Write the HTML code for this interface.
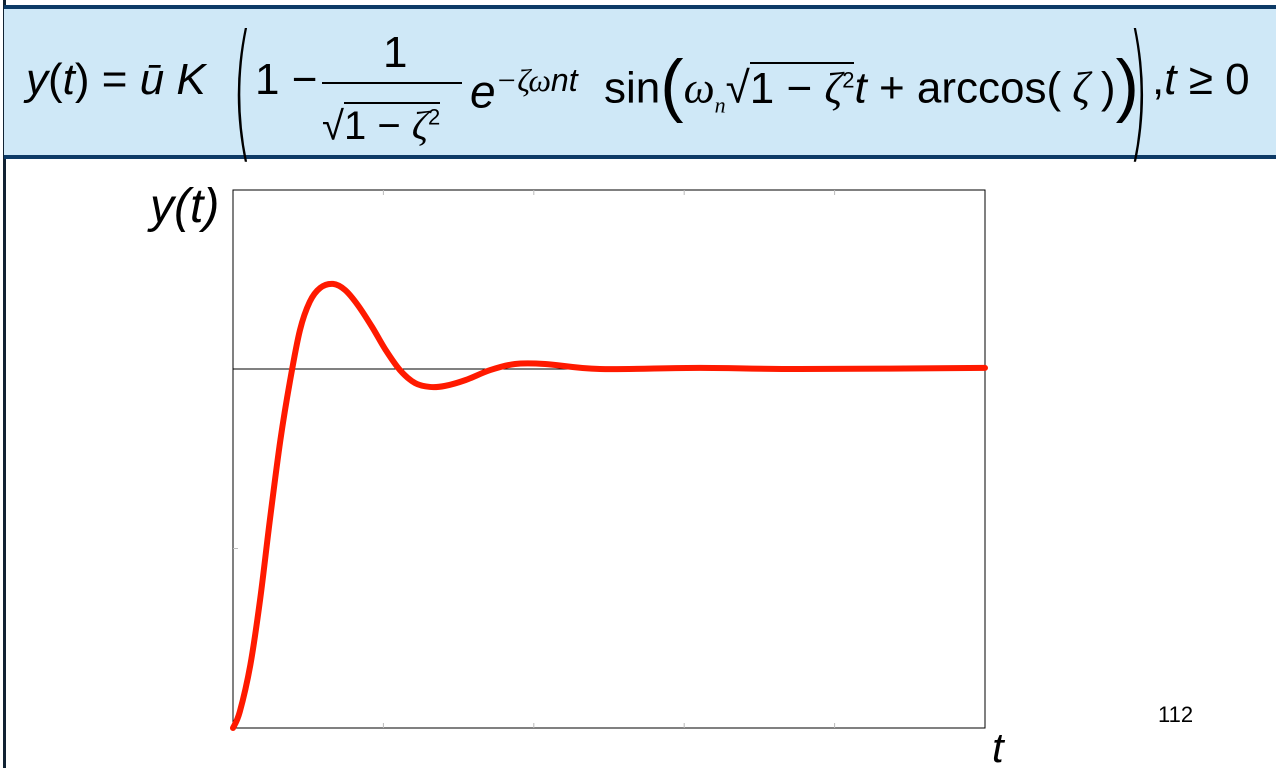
<!DOCTYPE html>
<html><head><meta charset="utf-8"><style>
body{margin:0;width:1276px;height:768px;background:#fff;position:relative;overflow:hidden;font-family:"Liberation Sans",sans-serif}
.a{position:absolute;white-space:nowrap}
.i{font-style:italic}
.s{font-family:"Liberation Serif","DejaVu Serif",serif;font-style:italic}
</style></head><body>
<div class="a" style="left:3px;top:0;width:3px;height:768px;background:#123"></div>
<div class="a" style="left:4px;top:5px;width:1272px;height:154px;background:#cfe8f7;border-top:4px solid #0d3a66;border-bottom:4px solid #0d3a66;box-sizing:border-box"></div>
<div class="a" style="left:26px;top:50px;font-size:44px;line-height:60px;color:#000">
<span class="i">y</span>(<span class="i">t</span>) = <span class="i">ū K</span>
</div>
<div class="a" style="left:232px;top:4px;font-size:150px;font-weight:100;transform:scaleX(0.35);transform-origin:left;font-family:'DejaVu Sans'">(</div>
<div class="a" style="left:255px;top:50px;font-size:44px;line-height:60px">1 −</div>
<div class="a" style="left:383px;top:28px;font-size:44px;line-height:50px">1</div>
<div class="a" style="left:322px;top:82px;width:140px;height:2px;background:#000"></div>
<div class="a" style="left:322px;top:90px;font-size:40px;line-height:55px">√<span style="border-top:2px solid #000">1 − <span class="s">ζ</span><sup style="font-size:22px">2</sup></span></div>
<div class="a" style="left:470px;top:50px;font-size:46px;line-height:60px"><span class="i">e</span><sup class="s" style="font-size:32px">−ζω</sup><sup class="i" style="font-size:32px">nt</sup></div>
<div class="a" style="left:604px;top:50px;font-size:44px;line-height:60px">sin<span style="font-size:70px;font-weight:100;vertical-align:-6px">(</span><span class="s">ω</span><sub class="s" style="font-size:22px">n</sub>√<span style="border-top:2px solid #000">1 − <span class="s">ζ</span><sup style="font-size:22px">2</sup></span><span class="i">t</span> + arccos(<span class="s"> ζ </span>)<span style="font-size:70px;font-weight:100;vertical-align:-6px">)</span></div>
<div class="a" style="left:1128px;top:4px;font-size:150px;font-weight:100;transform:scaleX(0.35);transform-origin:left;font-family:'DejaVu Sans'">)</div>
<div class="a" style="left:1152px;top:50px;font-size:44px;line-height:60px">,<span class="i">t</span> ≥ 0</div>

<svg class="a" style="left:0;top:0" width="1276" height="768">
<text x="150" y="222" font-size="48" font-style="italic" font-family="Liberation Sans">y(t)</text>
<text x="992" y="762" font-size="42" font-style="italic" font-family="Liberation Sans">t</text>
<text x="1158" y="722" font-size="22" font-family="Liberation Sans">112</text>
<g id="g"></g>
</svg>
<script>
const tVals=[0,0.09,0.23,0.36,0.49,0.63,0.76,0.89,1.02,1.16,1.33,1.49,1.66,1.85,2.03,2.22,2.42,2.62,2.82,3.09,3.42,3.75,4.15,4.88,6.21,7.54,10];
const yVals=[0,0.045,0.175,0.357,0.579,0.802,0.969,1.108,1.187,1.226,1.237,1.220,1.178,1.117,1.053,0.997,0.961,0.950,0.953,0.969,0.997,1.014,1.014,1.0,1.003,1.0,1.003];
const xTicks=[2,4,6,8];
const yTicks=[0.5];
const setpoint=[1];
const X0=233,X1=985,Y0=728,Y1=190;
const sx=t=>X0+t/10*(X1-X0);
const sy=v=>Y0-v*359;
const g=document.getElementById('g');const NS='http://www.w3.org/2000/svg';
function mk(tag,attrs){const e=document.createElementNS(NS,tag);for(const k in attrs)e.setAttribute(k,attrs[k]);g.appendChild(e);return e;}
let e=mk('rect',{x:X0,y:Y1,width:X1-X0,height:Y0-Y1,fill:'none',stroke:'#000','stroke-width':1});


xTicks.forEach(t=>{
 let a=mk('line',{x1:sx(t),x2:sx(t),y1:Y1,y2:Y1+5,stroke:'#bbb'});
 
 
 let b=mk('line',{x1:sx(t),x2:sx(t),y1:Y0,y2:Y0-5,stroke:'#bbb'});
 
 
});
yTicks.forEach(v=>{
 let a=mk('line',{x1:X0,x2:X0+5,y1:sy(v),y2:sy(v),stroke:'#bbb'});
 
 
});
setpoint.forEach(v=>{
 let a=mk('line',{x1:X0,x2:X1,y1:sy(v),y2:sy(v),stroke:'#000','stroke-width':1});
 
 
});
const P=tVals.map((t,i)=>[sx(t),sy(yVals[i])]);
let d='M'+P[0][0]+','+P[0][1];
for(let i=0;i<P.length-1;i++){const p0=P[i-1]||P[i],p1=P[i],p2=P[i+1],p3=P[i+2]||p2;
d+=' C'+(p1[0]+(p2[0]-p0[0])/6)+','+(p1[1]+(p2[1]-p0[1])/6)+' '+(p2[0]-(p3[0]-p1[0])/6)+','+(p2[1]-(p3[1]-p1[1])/6)+' '+p2[0]+','+p2[1];}
let c=mk('path',{d:d,fill:'none',stroke:'#ff1a00','stroke-width':6,'stroke-linejoin':'round','stroke-linecap':'round'});


</script>
</body></html>
